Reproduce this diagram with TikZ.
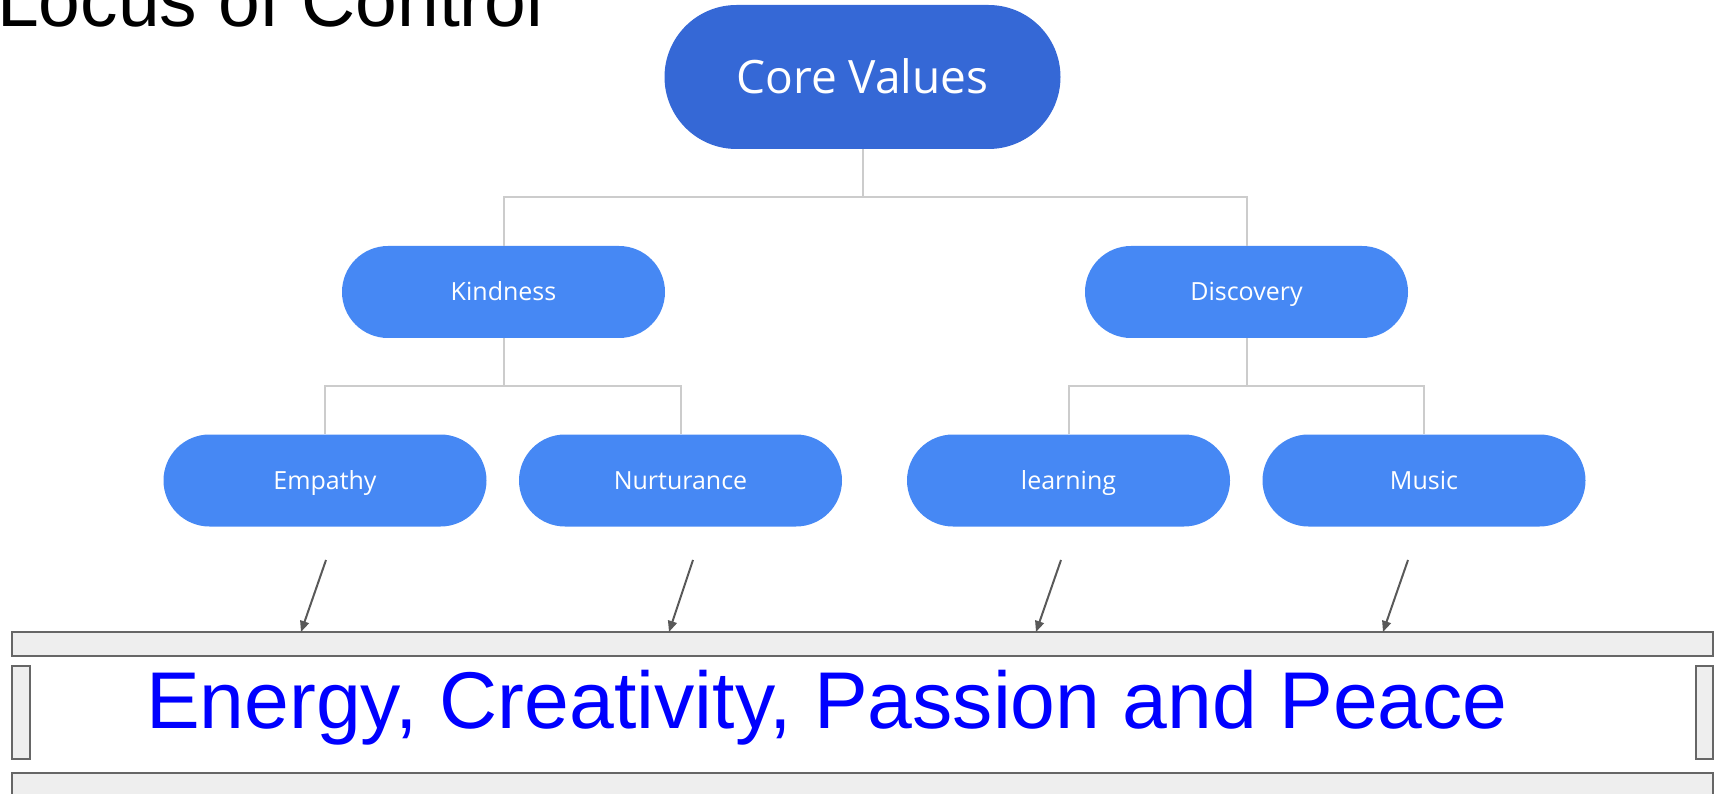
\documentclass[tikz,border=0pt]{standalone}
\usepackage{fontspec}
\setmainfont{Liberation Sans}
\newfontfamily\slidefont{Open Sans}
\usetikzlibrary{arrows.meta}
\definecolor{coreblue}{RGB}{53,104,214}
\definecolor{nodeblue}{RGB}{70,136,244}
\definecolor{connGray}{RGB}{204,204,204}
\definecolor{barfill}{RGB}{238,238,238}
\definecolor{barline}{RGB}{102,102,102}
\definecolor{arrowgray}{RGB}{89,89,89}
\begin{document}
\begin{tikzpicture}[x=1pt,y=-1pt,
 pill/.style={rectangle, fill=nodeblue, text=white, inner sep=0pt, minimum width=323pt, minimum height=92pt, rounded corners=46pt, font=\slidefont\fontsize{25}{30}\selectfont, text height=17.9pt, text depth=0pt},
 corepill/.style={pill, fill=coreblue, minimum width=396pt, minimum height=144pt, rounded corners=72pt, font=\slidefont\fontsize{46}{55}\selectfont, text height=32.8pt},
 conn/.style={draw=connGray, line width=2pt},
 arr/.style={draw=arrowgray, line width=2pt, -{Triangle[length=11pt,width=9pt]}},
 barbox/.style={rectangle, fill=barfill, draw=barline, line width=2pt, inner sep=0pt},
]
\useasboundingbox (0,0) rectangle (1714,794);
\clip (0,0) rectangle (1714,794);

% title
\node[anchor=base west, inner sep=0pt, font=\fontsize{75}{90}\selectfont] (title) at (-3,27) {Locus of Control};

% tree nodes
\node[corepill] (core) at (862.5,77) {Core Values};
\node[pill] (kind) at (503.5,292) {Kindness};
\node[pill] (disc) at (1246.5,292) {Discovery};
\node[pill] (emp) at (325,480.5) {Empathy};
\node[pill] (nur) at (680.5,480.5) {Nurturance};
\node[pill] (lea) at (1068.5,480.5) {learning};
\node[pill] (mus) at (1424,480.5) {Music};

% connectors
\draw[conn] (core.south) -- ++(0,48) -| (kind.north);
\draw[conn] (core.south) -- ++(0,48) -| (disc.north);
\draw[conn] (kind.south) -- ++(0,48) -| (emp.north);
\draw[conn] (kind.south) -- ++(0,48) -| (nur.north);
\draw[conn] (disc.south) -- ++(0,48) -| (lea.north);
\draw[conn] (disc.south) -- ++(0,48) -| (mus.north);

% bars
\node[barbox, minimum width=1701pt, minimum height=24pt] (bar1) at (862.5,644) {};
\node[barbox, minimum width=18pt, minimum height=93pt] (barL) at (21,712.5) {};
\node[barbox, minimum width=17pt, minimum height=93pt] (barR) at (1704.5,712.5) {};
\node[barbox, minimum width=1701pt, minimum height=48pt] (bar2) at (862.5,797) {};

% arrows
\coordinate (a1s) at (326,560);   \coordinate (a1e) at (301,632);
\coordinate (a2s) at (693,560);   \coordinate (a2e) at (669,632);
\coordinate (a3s) at (1061,560);  \coordinate (a3e) at (1036,632);
\coordinate (a4s) at (1408,560);  \coordinate (a4e) at (1383,632);
\draw[arr] (a1s) -- (a1e);
\draw[arr] (a2s) -- (a2e);
\draw[arr] (a3s) -- (a3e);
\draw[arr] (a4s) -- (a4e);

% motto
\node[anchor=base, inner sep=0pt, text=blue, font=\fontsize{80.5}{97}\selectfont] (motto) at (827,728) {Energy, Creativity, Passion and Peace};
\end{tikzpicture}
\end{document}
